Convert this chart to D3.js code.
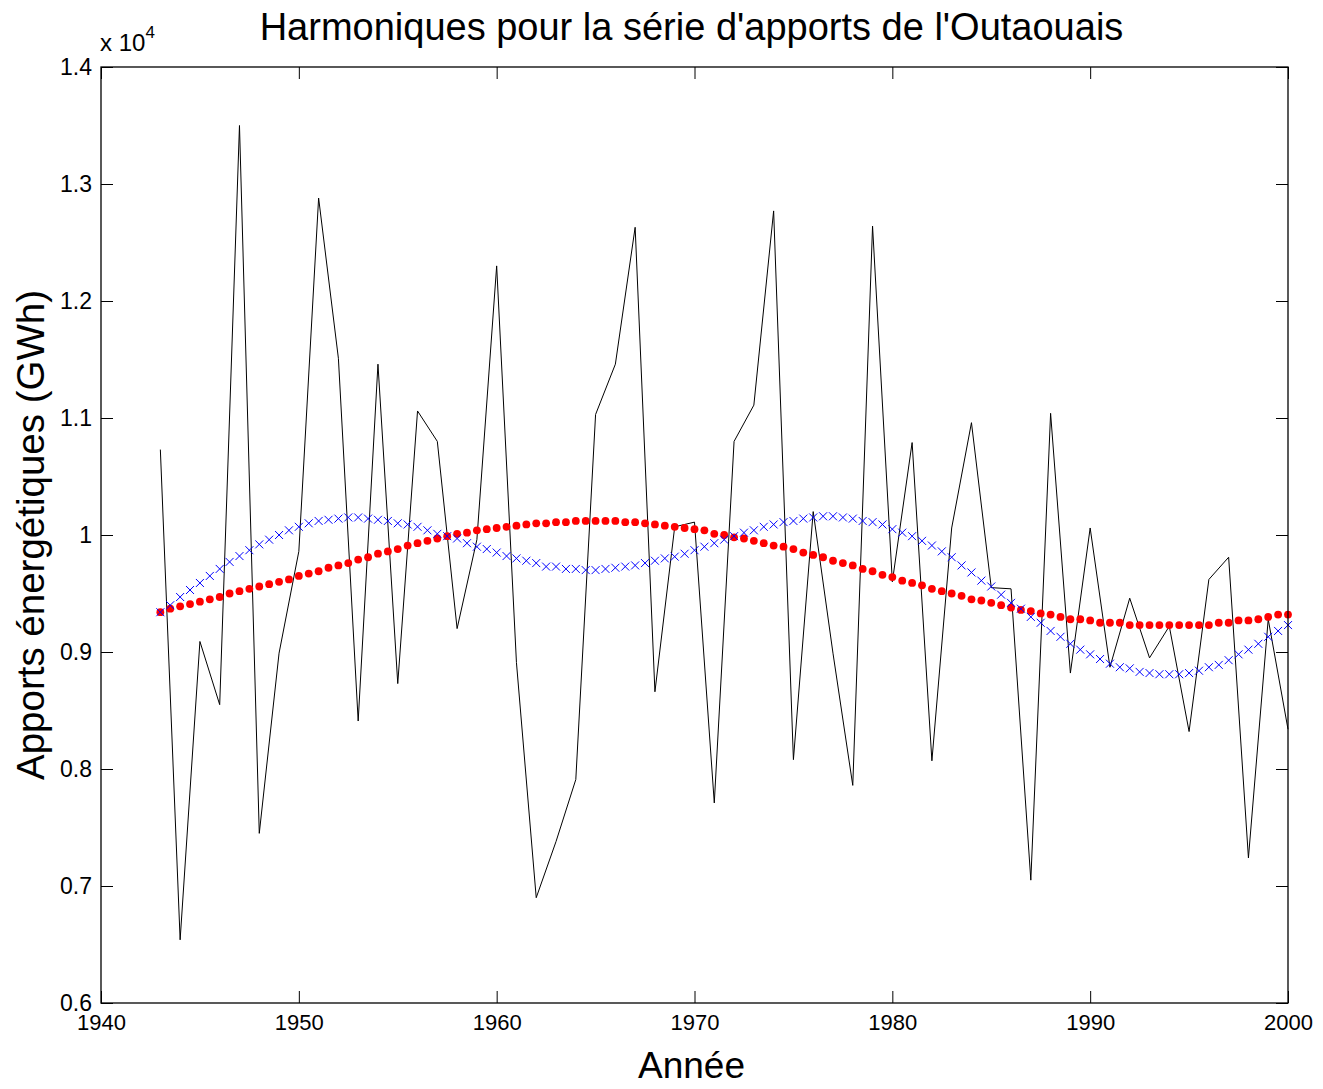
<!DOCTYPE html>
<html>
<head>
<meta charset="utf-8">
<title>Harmoniques pour la série d'apports de l'Outaouais</title>
<script src="https://cdn.jsdelivr.net/npm/d3@7"></script>
<style>
  html, body { margin: 0; padding: 0; background: #ffffff; }
  svg { display: block; font-family: "Liberation Sans", Arial, Helvetica, sans-serif; }
</style>
</head>
<body>
<svg id="chart" width="1323" height="1089"></svg>
<script>
// Annual energy inflows of the Outaouais (GWh), 1943-2000
const years = d3.range(1943, 2001);
const inflows = [
  10730, 6540, 9090, 8550, 13500, 7450, 8990, 9860, 12880, 11510,
  8410, 11460, 8730, 11060, 10800, 9200, 9960, 12300, 8910, 6900,
  7380, 7910, 11030, 11460, 12630, 8660, 10070, 10110, 7710, 10800,
  11110, 12770, 8080, 10200, 8990, 7860, 12640, 9600, 10790, 8070,
  10060, 10960, 9550, 9540, 7050, 11040, 8820, 10060, 8870, 9460,
  8950, 9220, 8320, 9620, 9810, 7240, 9280, 8340
];

// Half-year grid on which the harmonic fits are evaluated
const harmonicYears = d3.range(1943, 2000.25, 0.5);

// Fit with the first harmonic (red dots)
const harmonicRed = [
  9340, 9370, 9390, 9410, 9430, 9450, 9470, 9500, 9520, 9540,
  9560, 9580, 9600, 9620, 9650, 9670, 9690, 9720, 9740, 9760,
  9790, 9810, 9840, 9860, 9880,
  9910, 9930, 9950, 9970, 9990, 10010, 10020, 10040, 10050, 10060,
  10070, 10080, 10090, 10100, 10100, 10110, 10110, 10120, 10120, 10120,
  10120, 10120, 10110, 10110, 10100, 10090, 10080, 10070, 10060, 10050,
  10040, 10010, 10000, 9980,
  9970, 9950, 9930, 9910, 9900, 9880, 9850, 9830, 9810, 9780,
  9760, 9740, 9710, 9690, 9660, 9640, 9610, 9590, 9570, 9540,
  9520, 9500, 9480, 9450, 9440, 9420, 9400, 9380, 9360, 9350,
  9330, 9320, 9300, 9280, 9280, 9270, 9250, 9250, 9250, 9230,
  9230, 9230, 9230, 9230, 9230, 9230, 9230, 9230, 9250, 9250,
  9270, 9270, 9280, 9300, 9320, 9320
];

// Fit with the first two harmonics (blue crosses)
const harmonicBlue = [
  9340, 9400, 9470, 9530, 9590, 9650, 9710, 9770, 9820, 9870,
  9920, 9960, 10000, 10040, 10070, 10100, 10120, 10130, 10140, 10150,
  10150, 10140, 10130, 10120, 10100,
  10090, 10070, 10040, 10010, 9990, 9970, 9930, 9900, 9880, 9850,
  9820, 9800, 9780, 9760, 9730, 9730, 9710, 9710, 9700, 9700,
  9710, 9720, 9730, 9740, 9760, 9780, 9800, 9815, 9840, 9870,
  9900, 9930, 9960, 9990,
  10020, 10040, 10070, 10090, 10110, 10120, 10140, 10150, 10160, 10160,
  10150, 10140, 10120, 10110, 10090, 10050, 10020, 9990, 9950, 9910,
  9860, 9810, 9740, 9680, 9610, 9560, 9490, 9420, 9370, 9300,
  9250, 9180, 9130, 9070, 9020, 8980, 8940, 8900, 8870, 8860,
  8830, 8820, 8810, 8810, 8810, 8820, 8840, 8870, 8890, 8930,
  8980, 9020, 9070, 9130, 9180, 9230
];

const xTicks = [1940, 1950, 1960, 1970, 1980, 1990, 2000];
const yTicks = [6000, 7000, 8000, 9000, 10000, 11000, 12000, 13000, 14000];

const titleText = "Harmoniques pour la série d'apports de l'Outaouais";
const xLabel = "Année";
const yLabel = "Apports énergétiques (GWh)";

const svg = d3.select("#chart");
const W = 1323, H = 1089;
const plot = { left: 101, right: 1288, top: 67, bottom: 1003 };

svg.append("rect").attr("width", W).attr("height", H).attr("fill", "#ffffff");

const x = d3.scaleLinear().domain([1940, 2000]).range([plot.left, plot.right]);
const y = d3.scaleLinear().domain([6000, 14000]).range([plot.bottom, plot.top]);

const fmtY = d => String(+(d / 1e4).toFixed(1));
const tickLen = 12;

// Axes with inward ticks on all four sides
const gx = svg.append("g")
  .attr("transform", `translate(0,${plot.bottom})`)
  .call(d3.axisBottom(x).tickValues(xTicks).tickFormat(d3.format("d"))
    .tickSize(-tickLen).tickPadding(11));
const gxTop = svg.append("g")
  .attr("transform", `translate(0,${plot.top})`)
  .call(d3.axisTop(x).tickValues(xTicks).tickFormat("").tickSize(-tickLen));
const gy = svg.append("g")
  .attr("transform", `translate(${plot.left},0)`)
  .call(d3.axisLeft(y).tickValues(yTicks).tickFormat(fmtY)
    .tickSize(-tickLen).tickPadding(9));
const gyRight = svg.append("g")
  .attr("transform", `translate(${plot.right},0)`)
  .call(d3.axisRight(y).tickValues(yTicks).tickFormat("").tickSize(-tickLen));

[gx, gxTop, gy, gyRight].forEach(g => {
  g.select(".domain").remove();
  g.selectAll(".tick line").attr("stroke", "#000").attr("stroke-width", 1);
  g.selectAll(".tick text")
    .attr("fill", "#000")
    .style("font-family", '"Liberation Sans", Arial, Helvetica, sans-serif')
    .style("font-size", "22px");
});
gy.selectAll(".tick text").style("font-size", "23px");

// Data series
const line = d3.line().x(d => x(d[0])).y(d => y(d[1]));
svg.append("path")
  .datum(years.map((yr, i) => [yr, inflows[i]]))
  .attr("fill", "none")
  .attr("stroke", "#000")
  .attr("stroke-width", 1)
  .attr("d", line);

svg.append("g").selectAll("circle")
  .data(harmonicYears.map((yr, i) => [yr, harmonicRed[i]]))
  .join("circle")
  .attr("cx", d => x(d[0]))
  .attr("cy", d => y(d[1]))
  .attr("r", 3.9)
  .attr("fill", "#ff0000");

const s = 4;
svg.append("g").selectAll("path")
  .data(harmonicYears.map((yr, i) => [yr, harmonicBlue[i]]))
  .join("path")
  .attr("d", d => {
    const cx = x(d[0]), cy = y(d[1]);
    return `M${cx - s},${cy - s}L${cx + s},${cy + s}M${cx - s},${cy + s}L${cx + s},${cy - s}`;
  })
  .attr("stroke", "#0000ff")
  .attr("stroke-width", 1)
  .attr("fill", "none");

// Plot frame
svg.append("rect")
  .attr("x", plot.left).attr("y", plot.top)
  .attr("width", plot.right - plot.left).attr("height", plot.bottom - plot.top)
  .attr("fill", "none").attr("stroke", "#000").attr("stroke-width", 1.3);

// Exponent note above the y axis
const expo = svg.append("text")
  .attr("x", plot.left - 1).attr("y", 51)
  .style("font-size", "24px").attr("fill", "#000");
expo.append("tspan").text("x 10");
expo.append("tspan").attr("dy", -13).style("font-size", "17px").text("4");

// Title and axis labels
svg.append("text")
  .attr("x", (plot.left + plot.right) / 2 - 3).attr("y", 40)
  .attr("text-anchor", "middle")
  .style("font-size", "38px").attr("fill", "#000")
  .text(titleText);

svg.append("text")
  .attr("x", (plot.left + plot.right) / 2 - 3).attr("y", 1078)
  .attr("text-anchor", "middle")
  .style("font-size", "37px").attr("fill", "#000")
  .text(xLabel);

svg.append("text")
  .attr("transform", `translate(44,${(plot.top + plot.bottom) / 2}) rotate(-90)`)
  .attr("text-anchor", "middle")
  .style("font-size", "38.5px").attr("fill", "#000")
  .text(yLabel);
</script>
</body>
</html>
